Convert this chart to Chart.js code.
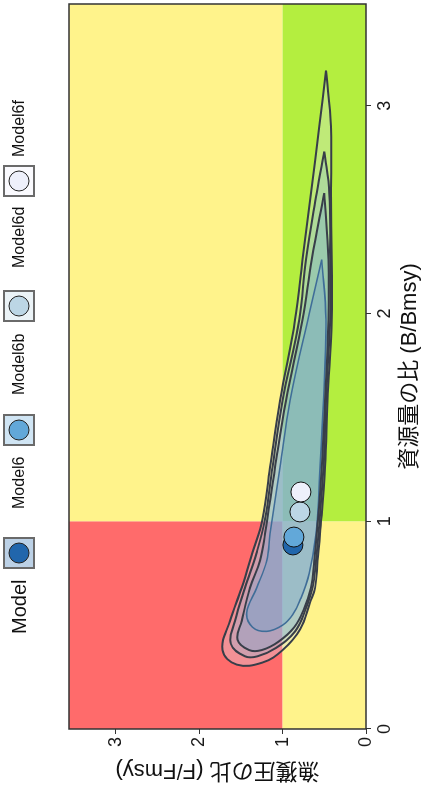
<!DOCTYPE html>
<html>
<head>
<meta charset="utf-8">
<script src="https://cdn.jsdelivr.net/npm/chart.js@4/dist/chart.umd.min.js"></script>
<style>
  html, body { margin: 0; padding: 0; background: #ffffff; overflow: hidden; }
  #wrap {
    position: absolute; left: 0; top: 0; width: 789px; height: 423px;
    transform-origin: 0 0;
    transform: translateY(789px) rotate(-90deg);
    background: #ffffff;
  }
  canvas { display: block; }
</style>
</head>
<body>
<div id="wrap"><canvas id="c" width="789" height="423"></canvas></div>
<script>
// ---------------- data ----------------
const legendTitle = 'Model';
const categories = ['Model6', 'Model6b', 'Model6d', 'Model6f'];
const modelColors = ['#2166ac', '#62a8d9', '#bcd6e5', '#eef0fb'];
const fillColors  = ['#2166ac', '#2f80c0', '#6aa8d8', '#d8e4f4'];

// current status points (B/Bmsy, F/Fmsy)
const pointB = [0.886, 0.924, 1.045, 1.141];
const pointF = [0.876, 0.864, 0.792, 0.780];

// confidence contours (closed loops)
const contourModel6B  = [2.26, 1.97, 1.58, 1.26, 0.94, 0.75, 0.62, 0.55, 0.50, 0.47, 0.49, 0.56, 0.68, 0.81, 0.94, 1.26, 1.58, 2.00, 2.26];
const contourModel6F  = [0.53, 0.48, 0.51, 0.55, 0.60, 0.68, 0.79, 0.88, 1.00, 1.19, 1.36, 1.43, 1.31, 1.19, 1.15, 1.03, 0.91, 0.68, 0.53];
const contourModel6bB = [2.58, 2.26, 1.97, 1.58, 1.26, 0.94, 0.81, 0.68, 0.58, 0.49, 0.42, 0.38, 0.38, 0.43, 0.52, 0.68, 0.81, 0.94, 1.26, 1.58, 1.97, 2.26, 2.58];
const contourModel6bF = [0.50, 0.45, 0.45, 0.49, 0.53, 0.59, 0.62, 0.66, 0.74, 0.86, 1.05, 1.25, 1.40, 1.54, 1.49, 1.39, 1.27, 1.21, 1.09, 0.96, 0.76, 0.65, 0.50];
const contourModel6dB = [2.78, 2.58, 2.26, 1.97, 1.58, 1.26, 0.94, 0.81, 0.68, 0.58, 0.47, 0.39, 0.35, 0.35, 0.41, 0.52, 0.68, 0.85, 1.01, 1.26, 1.58, 1.97, 2.26, 2.58, 2.78];
const contourModel6dF = [0.50, 0.44, 0.43, 0.43, 0.48, 0.51, 0.57, 0.60, 0.64, 0.72, 0.85, 1.08, 1.30, 1.45, 1.62, 1.57, 1.45, 1.31, 1.21, 1.12, 1.00, 0.80, 0.72, 0.59, 0.50];
const contourModel6fB = [3.17, 2.90, 2.58, 2.26, 1.97, 1.58, 1.26, 0.94, 0.81, 0.68, 0.61, 0.48, 0.38, 0.32, 0.31, 0.38, 0.52, 0.68, 0.85, 1.01, 1.26, 1.58, 1.97, 2.26, 2.58, 2.90, 3.17];
const contourModel6fF = [0.48, 0.42, 0.42, 0.41, 0.41, 0.46, 0.49, 0.55, 0.58, 0.61, 0.67, 0.79, 1.00, 1.24, 1.55, 1.72, 1.63, 1.49, 1.36, 1.24, 1.15, 1.03, 0.85, 0.76, 0.66, 0.56, 0.48];

const contourB = [contourModel6B, contourModel6bB, contourModel6dB, contourModel6fB];
const contourF = [contourModel6F, contourModel6bF, contourModel6dF, contourModel6fF];

// axes
const xTicks = [0, 1, 2, 3];
const yTicks = [0, 1, 2, 3];
const xMax = 3.49;
const yMax = 3.56;
const xTitle = '資源量の比 (B/Bmsy)';
const yTitle = '漁獲圧の比 (F/Fmsy)';
// Kobe reference levels
const refB = 1;
const refF = 1;

// ---------------- styles ----------------
const FONT = '"Liberation Sans", "Noto Sans CJK JP", Arial, sans-serif';
const ZONE = { red: '#ff6b6b', yellow: '#fff38b', green: '#b4ee3f' };
const LEG = { y: 19, titleX: 155, keyX: [236, 359, 483, 608], labelX: [280, 394, 521, 632], box: 30 };
const outlineColors = ['#3f6d98', '#383e49', '#383e49', '#383e49'];
const FILL_ALPHA = 0.32;

function hexA(hex, a) {
  const n = parseInt(hex.slice(1), 16);
  return 'rgba(' + ((n >> 16) & 255) + ',' + ((n >> 8) & 255) + ',' + (n & 255) + ',' + a + ')';
}

// ---------------- datasets ----------------
const datasets = [];
categories.forEach((name, i) => {
  datasets.push({
    type: 'line',
    label: name + ' contour',
    data: contourB[i].map((b, k) => ({ x: b, y: contourF[i][k] })),
    borderColor: outlineColors[i],
    borderWidth: i === 0 ? 1.6 : 2,
    backgroundColor: hexA(fillColors[i], FILL_ALPHA),
    fill: 'shape',
    tension: 0.4,
    pointRadius: 0,
    order: 8 - i
  });
});
categories.forEach((name, i) => {
  datasets.push({
    type: 'scatter',
    label: name,
    data: [{ x: pointB[i], y: pointF[i] }],
    backgroundColor: modelColors[i],
    borderColor: '#111111',
    borderWidth: 1,
    pointRadius: 10,
    pointHoverRadius: 10,
    order: 4 - i
  });
});

// ---------------- plugins ----------------
const zonesPlugin = {
  id: 'zones',
  beforeDraw(chart) {
    const { ctx, chartArea: a, scales: { x, y } } = chart;
    const xb = x.getPixelForValue(refB), yf = y.getPixelForValue(refF);
    ctx.save();
    ctx.fillStyle = ZONE.red;    ctx.fillRect(a.left, a.top, xb - a.left, yf - a.top);
    ctx.fillStyle = ZONE.yellow; ctx.fillRect(a.left, yf, xb - a.left, a.bottom - yf);
    ctx.fillRect(xb, a.top, a.right - xb, yf - a.top);
    ctx.fillStyle = ZONE.green;  ctx.fillRect(xb, yf, a.right - xb, a.bottom - yf);
    ctx.restore();
  },
  afterDatasetsDraw(chart) {
    const { ctx, chartArea: a } = chart;
    ctx.save();
    ctx.strokeStyle = '#333333';
    ctx.lineWidth = 1.5;
    ctx.strokeRect(a.left, a.top, a.right - a.left, a.bottom - a.top);
    ctx.restore();
  }
};

const legendPlugin = {
  id: 'kobeLegend',
  afterDraw(chart) {
    const ctx = chart.ctx;
    ctx.save();
    ctx.textBaseline = 'middle';
    ctx.textAlign = 'left';
    ctx.fillStyle = '#111111';
    ctx.font = '20px ' + FONT;
    ctx.fillText(legendTitle, LEG.titleX, LEG.y + 1);
    categories.forEach((name, i) => {
      const cx = LEG.keyX[i], cy = LEG.y, h = LEG.box / 2;
      ctx.fillStyle = '#ffffff';
      ctx.fillRect(cx - h, cy - h, LEG.box, LEG.box);
      ctx.fillStyle = hexA(modelColors[i], 0.3);
      ctx.fillRect(cx - h, cy - h, LEG.box, LEG.box);
      ctx.strokeStyle = '#6a6a6a';
      ctx.lineWidth = 2;
      ctx.strokeRect(cx - h, cy - h, LEG.box, LEG.box);
      ctx.beginPath();
      ctx.arc(cx, cy, 10, 0, Math.PI * 2);
      ctx.fillStyle = modelColors[i];
      ctx.fill();
      ctx.lineWidth = 1;
      ctx.strokeStyle = '#222222';
      ctx.stroke();
      ctx.fillStyle = '#111111';
      ctx.font = '16px ' + FONT;
      ctx.fillText(name, LEG.labelX[i], cy + 1);
    });
    ctx.restore();
  }
};

// ---------------- chart ----------------
new Chart(document.getElementById('c'), {
  type: 'scatter',
  data: { datasets },
  plugins: [zonesPlugin, legendPlugin],
  options: {
    responsive: false,
    devicePixelRatio: 1,
    animation: false,
    layout: { autoPadding: false, padding: { top: 69, right: 4, left: 0, bottom: 0 } },
    plugins: {
      legend: { display: false },
      tooltip: { enabled: false },
      filler: { drawTime: 'beforeDatasetsDraw' }
    },
    events: [],
    scales: {
      x: {
        type: 'linear', min: 0, max: xMax,
        afterBuildTicks: s => { s.ticks = xTicks.map(v => ({ value: v })); },
        afterFit: s => { s.height = 57; s.paddingLeft = 0; s.paddingRight = 0; },
        grid: { drawOnChartArea: false, drawTicks: true, tickLength: 5, color: '#333333' },
        border: { display: false },
        ticks: { font: { size: 18, family: FONT }, color: '#1a1a1a', padding: 3, maxRotation: 0 },
        title: { display: true, text: xTitle, font: { size: 22, family: FONT }, color: '#111111', padding: { top: 0, bottom: 0 } }
      },
      y: {
        type: 'linear', min: 0, max: yMax,
        afterBuildTicks: s => { s.ticks = yTicks.map(v => ({ value: v })); },
        afterFit: s => { s.width = 60; s.paddingTop = 0; s.paddingBottom = 0; },
        grid: { drawOnChartArea: false, drawTicks: true, tickLength: 5, color: '#333333' },
        border: { display: false },
        ticks: { font: { size: 18, family: FONT }, color: '#1a1a1a', padding: 3 },
        title: { display: true, text: yTitle, font: { size: 22, family: FONT }, color: '#111111', padding: { top: 6, bottom: 0 } }
      }
    }
  }
});
</script>
</body>
</html>
